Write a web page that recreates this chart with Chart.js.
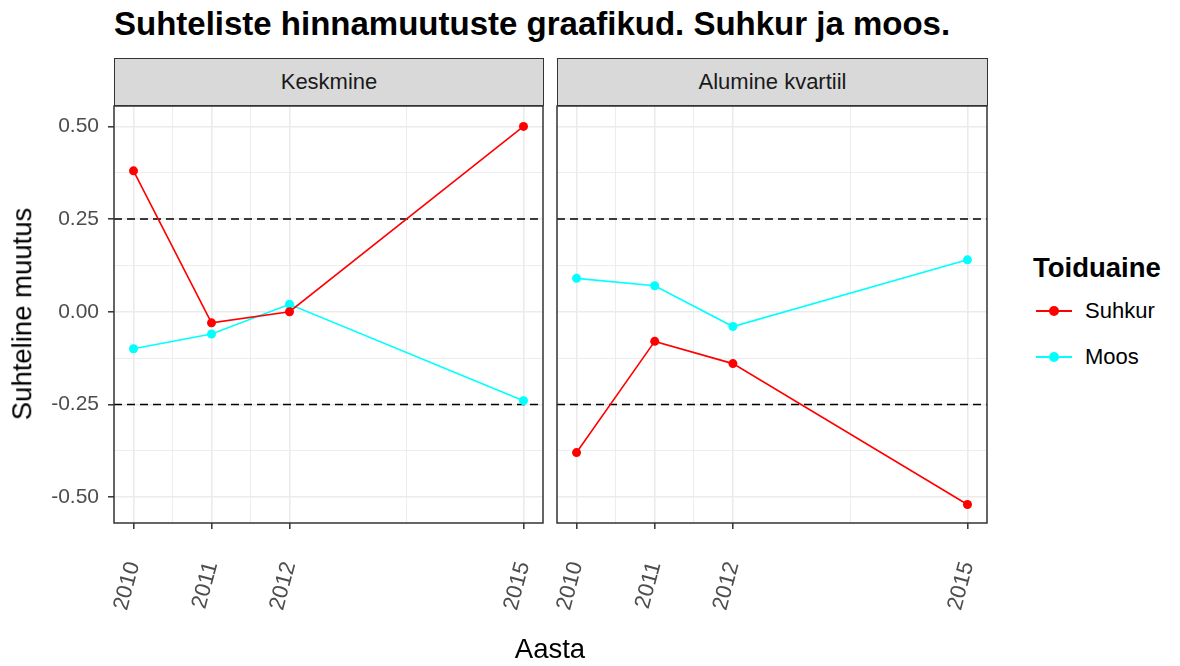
<!DOCTYPE html>
<html>
<head>
<meta charset="utf-8">
<script src="https://cdn.jsdelivr.net/npm/chart.js@4"></script>
<style>
  body { margin: 0; background: #fff; font-family: "Liberation Sans", Arial, sans-serif; }
  #page { position: relative; width: 1180px; height: 666px; overflow: hidden; }
  .abs { position: absolute; line-height: 1; white-space: nowrap; }
  .strip { position: absolute; top: 58px; height: 48px; box-sizing: border-box; background: #d9d9d9;
           border: 1.5px solid #333; display: flex; align-items: center; justify-content: center;
           font-size: 22px; color: #1a1a1a; }
  .key-line { position: absolute; width: 36px; height: 2px; }
  .key-dot { position: absolute; width: 10px; height: 10px; border-radius: 50%; }
</style>
</head>
<body>
<div id="page">
  <div class="abs" style="left:114px; top:7px; font-size:33px; font-weight:bold; color:#000;">Suhteliste hinnamuutuste graafikud. Suhkur ja moos.</div>

  <div class="strip" style="left:114px; width:430px;">Keskmine</div>
  <div class="strip" style="left:557px; width:431px;">Alumine kvartiil</div>

  <div style="position:absolute; left:0; top:96px;"><canvas id="panel1" width="560" height="570"></canvas></div>
  <div style="position:absolute; left:547px; top:96px;"><canvas id="panel2" width="450" height="570"></canvas></div>

  <div class="abs" style="left:22px; top:314px; font-size:27.5px; color:#000; transform: translate(-50%, -50%) rotate(-90deg);">Suhteline muutus</div>
  <div class="abs" style="left:550px; top:635px; font-size:27.5px; color:#000; transform: translateX(-50%);">Aasta</div>

  <div class="abs" style="left:1033px; top:254px; font-size:27.5px; font-weight:bold; color:#000;">Toiduaine</div>
  <div class="key-line" style="left:1036px; top:310px; background:#ff0000;"></div>
  <div class="key-dot" style="left:1049px; top:306px; background:#ff0000;"></div>
  <div class="abs" style="left:1085px; top:300px; font-size:22px; color:#000;">Suhkur</div>
  <div class="key-line" style="left:1036px; top:356px; background:#00ffff;"></div>
  <div class="key-dot" style="left:1049px; top:352px; background:#00ffff;"></div>
  <div class="abs" style="left:1085px; top:346px; font-size:22px; color:#000;">Moos</div>
</div>

<script>
const years = [2010, 2011, 2012, 2015];
const keskSuhkur = [0.38, -0.03, 0.00, 0.50];
const keskMoos = [-0.10, -0.06, 0.02, -0.24];
const alumSuhkur = [-0.38, -0.08, -0.14, -0.52];
const alumMoos = [0.09, 0.07, -0.04, 0.14];

const yTicks = [-0.50, -0.25, 0.00, 0.25, 0.50];
const yMinor = [-0.375, -0.125, 0.125, 0.375];
const xMinor = [2010.5, 2011.5, 2013.5];
const refLines = [0.25, -0.25];

const FONT = '"Liberation Sans", Arial, sans-serif';

function points(vals) {
  return years.map((x, i) => ({ x: x, y: vals[i] }));
}

function noPadding(s) {
  s.paddingTop = 0;
  s.paddingBottom = 0;
  s.paddingLeft = 0;
  s.paddingRight = 0;
}

/** frame around the panel and the dashed reference lines */
const panelPlugin = {
  id: 'panel',
  beforeDatasetsDraw(chart) {
    const ctx = chart.ctx, a = chart.chartArea, y = chart.scales.y;
    ctx.save();
    ctx.strokeStyle = '#000';
    ctx.lineWidth = 1.5;
    ctx.setLineDash([8, 5]);
    refLines.forEach(v => {
      const py = y.getPixelForValue(v);
      ctx.beginPath();
      ctx.moveTo(a.left, py);
      ctx.lineTo(a.right, py);
      ctx.stroke();
    });
    ctx.restore();
  },
  afterDraw(chart) {
    const ctx = chart.ctx, a = chart.chartArea;
    ctx.save();
    ctx.strokeStyle = '#333';
    ctx.lineWidth = 1.5;
    ctx.strokeRect(a.left, a.top, a.right - a.left, a.bottom - a.top);
    ctx.restore();
  }
};

function makePanel(id, suhkur, moos, showY, pad) {
  const ctx = document.getElementById(id).getContext('2d');
  return new Chart(ctx, {
    type: 'line',
    data: {
      datasets: [{
        label: 'Suhkur',
        data: points(suhkur),
        borderColor: '#ff0000',
        backgroundColor: '#ff0000',
        borderWidth: 1.6,
        pointRadius: 4.5,
        pointBorderWidth: 0,
        tension: 0
      }, {
        label: 'Moos',
        data: points(moos),
        borderColor: '#00ffff',
        backgroundColor: '#00ffff',
        borderWidth: 1.6,
        pointRadius: 4.5,
        pointBorderWidth: 0,
        tension: 0
      }]
    },
    options: {
      responsive: false,
      animation: false,
      layout: { autoPadding: false, padding: pad },
      plugins: { legend: { display: false }, tooltip: { enabled: false } },
      scales: {
        x: {
          type: 'linear',
          min: 2009.75,
          max: 2015.25,
          afterBuildTicks: s => { s.ticks = years.concat(xMinor).sort((p, q) => p - q).map(v => ({ value: v })); },
          afterFit: s => { s.height = 143; noPadding(s); },
          border: { display: false },
          grid: {
            color: '#ebebeb',
            lineWidth: c => (c.tick && years.includes(c.tick.value)) ? 1.6 : 0.9,
            tickLength: 6,
            tickWidth: 1.5,
            tickColor: c => (c.tick && years.includes(c.tick.value)) ? '#333' : 'rgba(0,0,0,0)'
          },
          ticks: {
            autoSkip: false,
            minRotation: 75,
            maxRotation: 75,
            padding: 30,
            color: '#4d4d4d',
            font: { family: FONT, size: 22 },
            callback: v => years.includes(v) ? String(v) : ''
          }
        },
        y: {
          min: -0.57,
          max: 0.555,
          afterBuildTicks: s => { s.ticks = yTicks.concat(yMinor).sort((p, q) => p - q).map(v => ({ value: v })); },
          afterFit: s => { s.width = showY ? 114 : 0; noPadding(s); },
          border: { display: false },
          grid: {
            color: '#ebebeb',
            lineWidth: c => (c.tick && yTicks.includes(c.tick.value)) ? 1.6 : 0.9,
            drawTicks: showY,
            tickLength: 6,
            tickWidth: 1.5,
            tickColor: c => (c.tick && yTicks.includes(c.tick.value)) ? '#333' : 'rgba(0,0,0,0)'
          },
          ticks: {
            display: showY,
            padding: 9,
            color: '#4d4d4d',
            font: { family: FONT, size: 21 },
            callback: v => yTicks.includes(v) ? v.toFixed(2) : ''
          }
        }
      }
    },
    plugins: [panelPlugin]
  });
}

document.addEventListener("DOMContentLoaded", function () {
  makePanel('panel1', keskSuhkur, keskMoos, true, { top: 10, right: 17, left: 0, bottom: 0 });
  makePanel('panel2', alumSuhkur, alumMoos, false, { top: 10, right: 10, left: 10, bottom: 0 });
});
</script>
</body>
</html>
